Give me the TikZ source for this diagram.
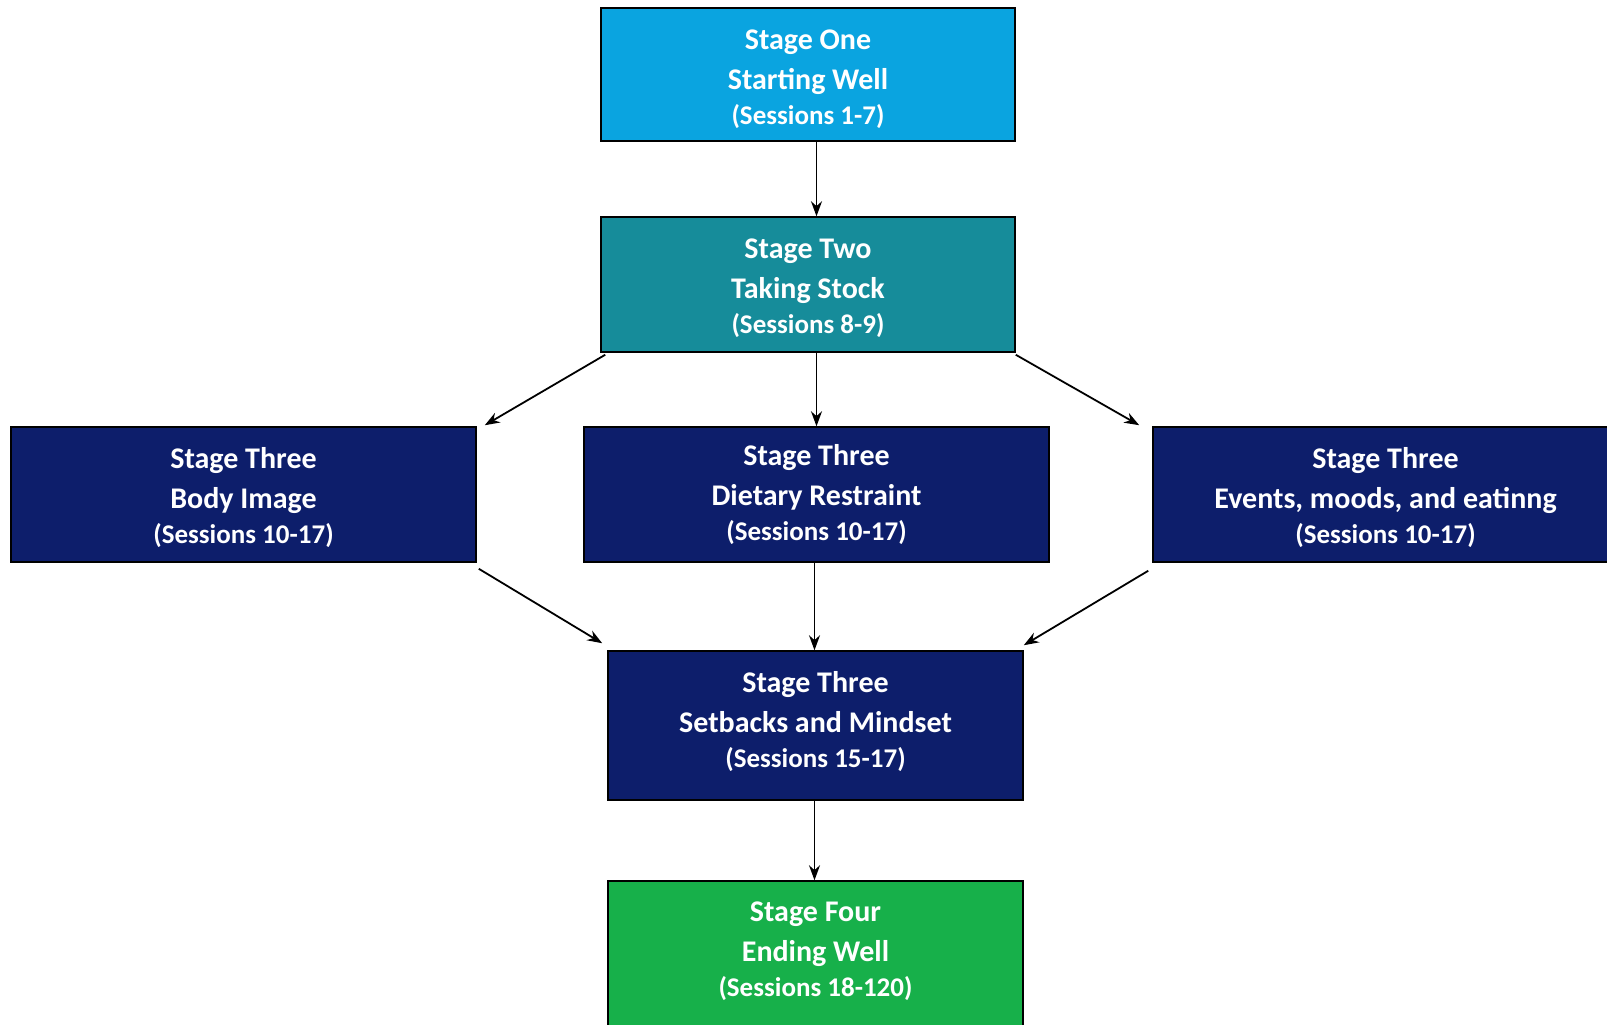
\documentclass[tikz,border=0pt]{standalone}
\usepackage{fontspec}
\setmainfont{Carlito}
\usetikzlibrary{arrows.meta,calc}
\definecolor{c1}{HTML}{0AA4E0}
\definecolor{c2}{HTML}{168C9A}
\definecolor{c3}{HTML}{0D1E6B}
\definecolor{c4}{HTML}{17B04A}
\tikzset{
  box/.style={draw=black, line width=1.5pt, inner sep=0pt},
  txt/.style={text=white, align=center, inner sep=0pt,
    font=\bfseries\fontsize{30}{40}\selectfont},
  arr/.style={line width=1.8pt, -{Stealth[length=15pt,width=11pt]}}
}
\newcommand{\sesstext}[1]{\\[-5pt]{\fontsize{27}{34}\selectfont #1}}
\begin{document}
\begin{tikzpicture}[x=1pt,y=-1pt]
\useasboundingbox (0,0) rectangle (1607,1025);
\begin{scope}
\clip (0,0) rectangle (1607,1025);
\node[box, fill=c1, minimum width=414pt, minimum height=133pt] (s1) at (808,74.5) {};
\node[txt] (s1t) at ([yshift=-5pt]s1.center) {Stage One\\Starting Well\sesstext{(Sessions 1-7)}};
\node[box, fill=c2, minimum width=414pt, minimum height=135pt] (s2) at (808,284.5) {};
\node[txt] (s2t) at ([yshift=-4pt]s2.center) {Stage Two\\Taking Stock\sesstext{(Sessions 8-9)}};
\node[box, fill=c3, minimum width=465pt, minimum height=135pt] (body) at (243.5,494.5) {};
\node[txt] (bodyt) at ([yshift=-3pt]body.center) {Stage Three\\Body Image\sesstext{(Sessions 10-17)}};
\node[box, fill=c3, minimum width=465pt, minimum height=135pt] (diet) at (816.5,494.5) {};
\node[txt] (diett) at (diet.center) {Stage Three\\Dietary Restraint\sesstext{(Sessions 10-17)}};
\node[box, fill=c3, minimum width=465pt, minimum height=135pt] (events) at (1385.5,494.5) {};
\node[txt] (eventst) at ([yshift=-3pt]events.center) {Stage Three\\Events, moods, and eatinng\sesstext{(Sessions 10-17)}};
\node[box, fill=c3, minimum width=415pt, minimum height=149pt] (setb) at (815.5,725.5) {};
\node[txt] (setbt) at ([yshift=4pt]setb.center) {Stage Three\\Setbacks and Mindset\sesstext{(Sessions 15-17)}};
\node[box, fill=c4, minimum width=415pt, minimum height=148pt] (four) at (815.5,955) {};
\node[txt] (fourt) at ([yshift=4pt]four.center) {Stage Four\\Ending Well\sesstext{(Sessions 18-120)}};
\end{scope}
\draw[arr] (diet.north |- s1.south) -- (diet.north |- s2.north);
\draw[arr] ($(s2.south west)+(5,2)$) -- ($(body.north east)+(8,-1)$);
\draw[arr] (diet.north |- s2.south) -- (diet.north);
\draw[arr] ($(s2.south east)+(0,2)$) -- ($(events.north west)+(-13,-1)$);
\draw[arr] ($(body.south east)+(2,6)$) -- ($(setb.north west)+(-5,-7)$);
\draw[arr] ($(diet.south)+(-2,0)$) -- ($(setb.north)+(-1,0)$);
\draw[arr] ($(events.south west)+(-4,8)$) -- ($(setb.north east)+(0,-5)$);
\draw[arr] ($(setb.south)+(-1,0)$) -- ($(four.north)+(-1,0)$);
\end{tikzpicture}
\end{document}
